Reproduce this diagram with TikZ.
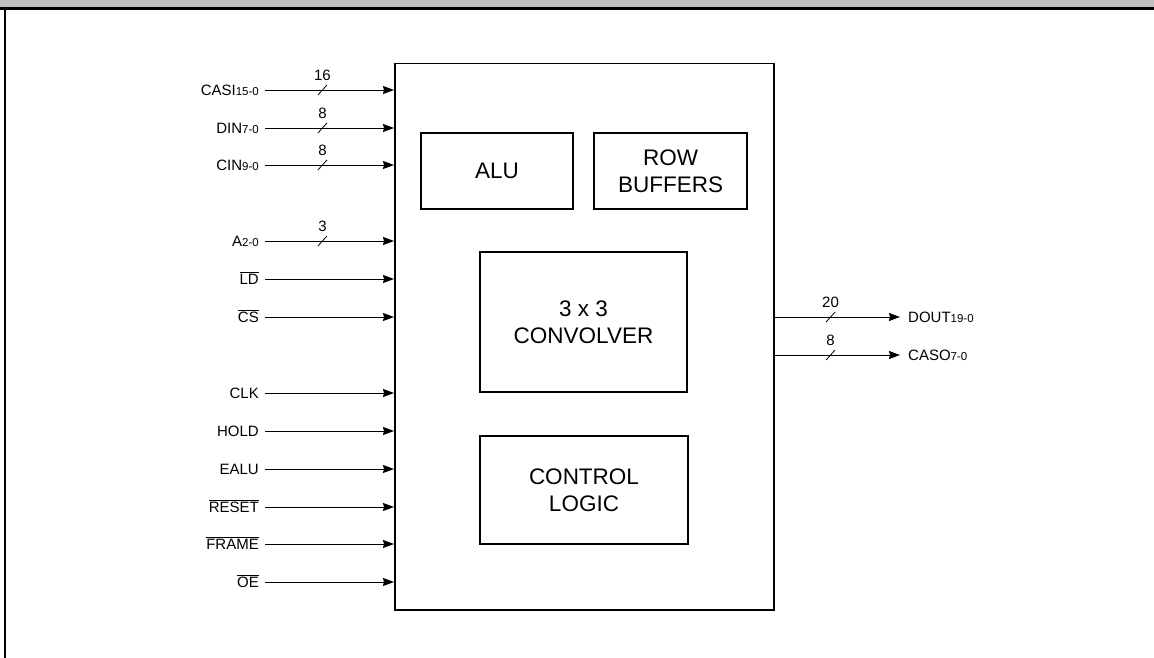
\documentclass[tikz,border=0pt]{standalone}
\usepackage{fontspec}
\setmainfont{Liberation Sans}
\usetikzlibrary{arrows.meta}
\newcommand\sigsub[2]{#1{\fontsize{11.5}{13}\selectfont #2}}
\newcommand\ovl[1]{$\overline{\mbox{#1}}$}
\tikzset{
 lbl/.style={inner sep=0pt, anchor=east, text height=10.7pt, text depth=0pt, font=\fontsize{15}{17}\selectfont},
 olbl/.style={lbl, anchor=west},
 sig/.style={line width=0.9pt, -{Stealth[length=11pt,width=8pt,inset=1pt]}},
 blk/.style={draw, line width=1.5pt, inner sep=0pt, align=center, font=\fontsize{22.5}{27}\selectfont},
 busnum/.style={font=\fontsize{15}{17}\selectfont, inner sep=0pt},
 slash/.style={line width=0.8pt},
}
\newcommand\busmark[2]{\draw[slash] (#1)+(-4.5,5) -- +(4.5,-5); \path (#1) ++(0,-15) node[busnum] (n#1) {#2};}
\begin{document}
\begin{tikzpicture}[x=1pt,y=-1pt]
\useasboundingbox (0,0) rectangle (1154,658);
% frame
\fill[black!25] (0,0) rectangle (1154,7.2);
\draw[line width=2.5pt] (0,8.3) -- (1154,8.3);
\draw[line width=2pt] (4.5,8.3) -- (4.5,658);
% chip
\node[draw, line width=1.5pt, minimum width=379pt, minimum height=546pt, inner sep=0pt, anchor=north west] (chip) at (394,63) {};
\node[blk, minimum width=152pt, minimum height=76pt] (alu) at (497,171) {ALU};
\node[blk, minimum width=153pt, minimum height=76pt] (rowb) at (670.5,171) {ROW\\BUFFERS};
\node[blk, minimum width=207pt, minimum height=140pt] (conv) at (583.5,322) {3 x 3\\CONVOLVER};
\node[blk, minimum width=208pt, minimum height=108pt] (ctrl) at (584,490) {CONTROL\\LOGIC};
% input labels
\node[lbl] (casi) at (259,90) {\sigsub{CASI}{15-0}};
\node[lbl] (din) at (259,128) {\sigsub{DIN}{7-0}};
\node[lbl] (cin) at (259,165) {\sigsub{CIN}{9-0}};
\node[lbl] (addr) at (259,241) {\sigsub{A}{2-0}};
\node[lbl] (ld) at (259,279) {\ovl{LD}};
\node[lbl] (cs) at (259,317) {\ovl{CS}};
\node[lbl] (clk) at (259,393) {CLK};
\node[lbl] (hold) at (259,431) {HOLD};
\node[lbl] (ealu) at (259,469) {EALU};
\node[lbl] (reset) at (259,507) {\ovl{RESET}};
\node[lbl] (frame) at (259,544) {\ovl{FRAME}};
\node[lbl] (oe) at (259,582) {\ovl{OE}};
% input connectors
\draw[sig, shorten <=6pt] (casi.east) -- coordinate[pos=0.47] (bcasi) (casi.east -| chip.west);
\draw[sig, shorten <=6pt] (din.east) -- coordinate[pos=0.47] (bdin) (din.east -| chip.west);
\draw[sig, shorten <=6pt] (cin.east) -- coordinate[pos=0.47] (bcin) (cin.east -| chip.west);
\draw[sig, shorten <=6pt] (addr.east) -- coordinate[pos=0.47] (baddr) (addr.east -| chip.west);
\foreach \s in {ld,cs,clk,hold,ealu,reset,frame,oe}
  \draw[sig, shorten <=6pt] (\s.east) -- (\s.east -| chip.west);
\busmark{bcasi}{16}
\busmark{bdin}{8}
\busmark{bcin}{8}
\busmark{baddr}{3}
% outputs
\node[olbl] (dout) at (908,317) {\sigsub{DOUT}{19-0}};
\node[olbl] (caso) at (908,355) {\sigsub{CASO}{7-0}};
\draw[sig, shorten >=8pt] (dout.west -| chip.east) -- coordinate[pos=0.42] (bdout) (dout.west);
\draw[sig, shorten >=8pt] (caso.west -| chip.east) -- coordinate[pos=0.42] (bcaso) (caso.west);
\busmark{bdout}{20}
\busmark{bcaso}{8}
\end{tikzpicture}
\end{document}
